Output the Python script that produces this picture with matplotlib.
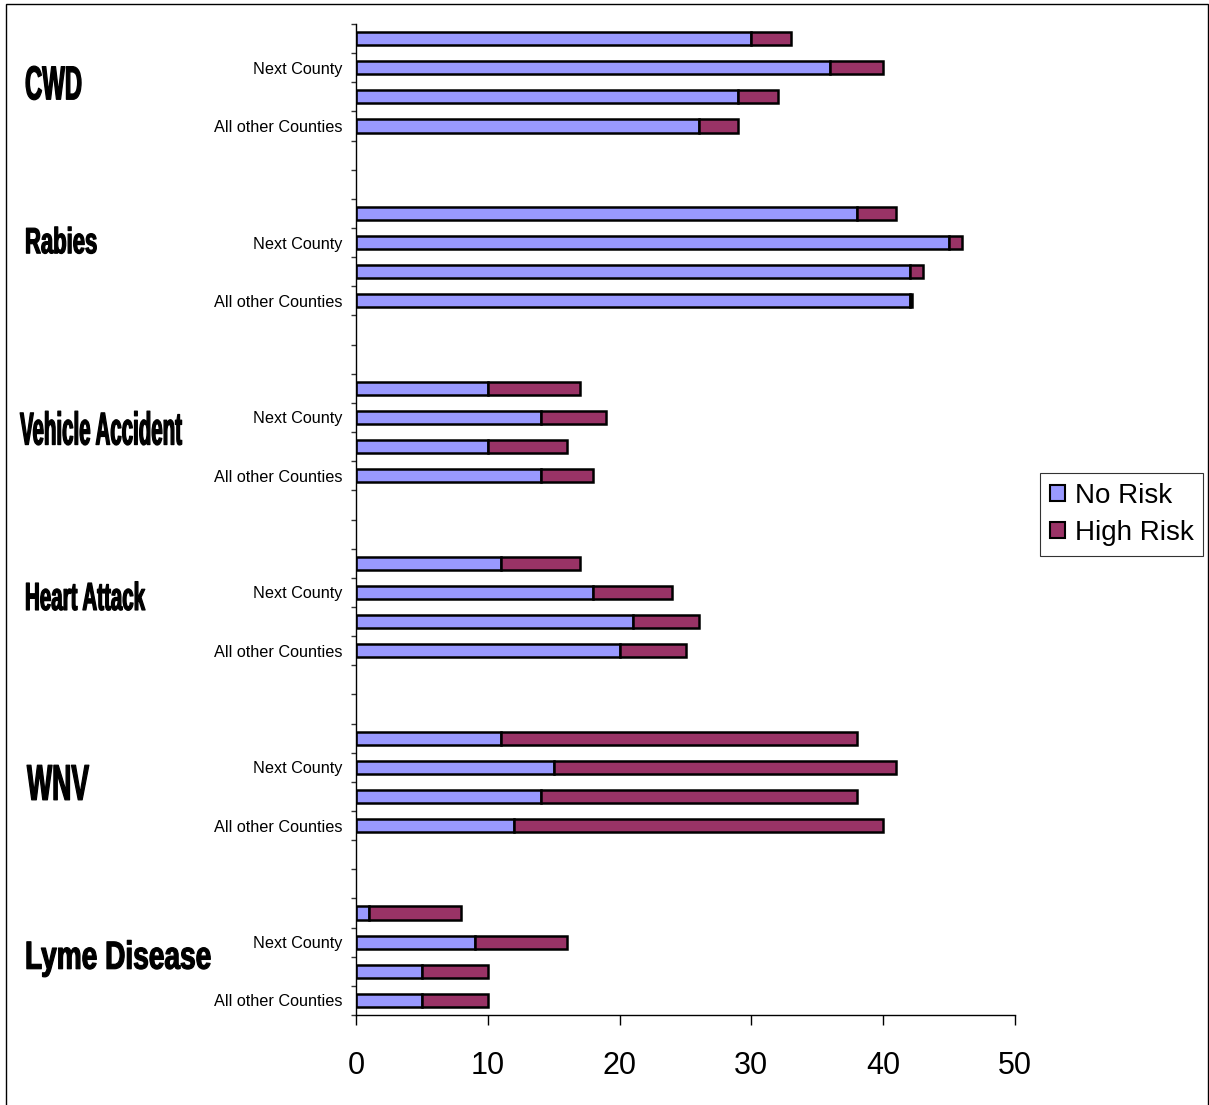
import numpy as np
import matplotlib
matplotlib.use("Agg")
import matplotlib.pyplot as plt
from matplotlib import patheffects
from matplotlib.patches import Patch, Rectangle
from matplotlib.transforms import Affine2D, blended_transform_factory

# Survey results: counts per disease, split by perceived risk
diseases = ["CWD", "Rabies", "Vehicle Accident", "Heart Attack", "WNV", "Lyme Disease"]
row_labels = ["", "Next County", "", "All other Counties"]
no_risk = [
    [30, 36, 29, 26],
    [38, 45, 42, 42],
    [10, 14, 10, 14],
    [11, 18, 21, 20],
    [11, 15, 14, 12],
    [1, 9, 5, 5],
]
high_risk = [
    [3, 4, 3, 3],
    [3, 1, 1, 0.2],
    [7, 5, 6, 4],
    [6, 6, 5, 5],
    [27, 26, 24, 28],
    [7, 7, 5, 5],
]
x_ticks = [0, 10, 20, 30, 40, 50]

# look of the big group titles (pixels): width, cap height, left edge, nudge up
title_w = [57, 72, 162, 120, 62, 186]
title_cap = [34, 26, 33, 28, 36, 28]
title_x = [25, 25, 20, 25, 27, 25]
title_dy = [0, 17, 4, 11, 0, 2]

c_no = "#9999FF"
c_high = "#993366"
sans = ["Liberation Sans", "DejaVu Sans"]
W, H = 1209, 1105


class Stretch(patheffects.AbstractPathEffect):
    """Stretch glyphs vertically about their baseline, with a thin outline."""
    def __init__(self, sy, lw=0.0):
        super().__init__()
        self.sy = sy
        self.lw = lw

    def draw_path(self, renderer, gc, tpath, affine, rgbFace=None):
        gc0 = renderer.new_gc()
        gc0.copy_properties(gc)
        if self.lw > 0:
            gc0.set_linewidth(self.lw)
            gc0.set_foreground(rgbFace)
        renderer.draw_path(gc0, tpath, Affine2D().scale(1, self.sy) + affine, rgbFace)
        gc0.restore()


fig = plt.figure(figsize=(W / 100, H / 100), dpi=100)
ax = fig.add_axes([356 / W, 1 - 1015 / H, (1015 - 356) / W, (1015 - 24) / H])

n_groups = len(diseases)
n_rows = len(row_labels)
slots = n_groups * (n_rows + 2) - 2

ypos, labels = [], []
for g in range(n_groups):
    for r in range(n_rows):
        y = slots - 1 - g * (n_rows + 2) - r
        ax.barh(y, no_risk[g][r], height=0.45, color=c_no, edgecolor="black", linewidth=1.8)
        ax.barh(y, high_risk[g][r], left=no_risk[g][r], height=0.45, color=c_high,
                edgecolor="black", linewidth=1.8)
        if row_labels[r]:
            ypos.append(y)
            labels.append(row_labels[r])

ax.set_xlim(0, 50)
ax.set_ylim(-0.5, slots - 0.5)
for s in ["top", "right"]:
    ax.spines[s].set_visible(False)
ax.spines["left"].set_linewidth(1.0)
ax.spines["bottom"].set_linewidth(1.0)

ax.set_yticks(np.arange(-0.5, slots, 1.0))
ax.set_yticklabels([])
ax.set_yticks(ypos, minor=True)
ax.set_yticklabels(labels, minor=True, fontsize=11.7, family=sans)
ax.tick_params(axis="y", which="major", length=3.5, width=1.0, color="#333333")
ax.tick_params(axis="y", which="minor", length=0, pad=9.5)

ax.set_xticks(x_ticks)
ax.set_xticklabels([str(v) for v in x_ticks], fontsize=22, family=sans)
ax.tick_params(axis="x", length=7, width=1.0, pad=19)

# group titles to the left of the row labels
fig.canvas.draw()
renderer = fig.canvas.get_renderer()
trans = blended_transform_factory(fig.transFigure, ax.transData)
for g, name in enumerate(diseases):
    y_mid = slots - 1 - g * (n_rows + 2) - (n_rows - 1) / 2
    t = ax.text(title_x[g] / W, y_mid, name, transform=trans, family=sans,
                fontweight="bold", fontsize=20, va="baseline", ha="left")
    w = t.get_window_extent(renderer).width
    fs = 20 * title_w[g] / w
    t.set_fontsize(fs)
    sy = title_cap[g] / (0.716 * fs * 100 / 72)
    t.set_path_effects([Stretch(sy, lw=0.9)])
    # baseline sits half a cap height below the group centre
    y_disp = ax.transData.transform((0, y_mid))[1] - title_cap[g] / 2 + title_dy[g]
    t.set_y(ax.transData.inverted().transform((0, y_disp))[1])

handles = [Patch(facecolor=c_no, edgecolor="black", linewidth=1.5, label="No Risk"),
           Patch(facecolor=c_high, edgecolor="black", linewidth=1.5, label="High Risk")]
leg = fig.legend(handles=handles, loc="upper left", bbox_to_anchor=(1040 / W, 1 - 473 / H),
                 prop={"family": sans, "size": 20},
                 frameon=True, fancybox=False, handlelength=0.55, handleheight=0.55,
                 handletextpad=0.35, labelspacing=0.4, borderpad=0.35, borderaxespad=0)
leg.get_frame().set_edgecolor("black")
leg.get_frame().set_linewidth(0.8)

fig.add_artist(Rectangle((6 / W, -0.01), (1208 - 6) / W, (H - 4) / H + 0.01,
                         transform=fig.transFigure, fill=False, edgecolor="black", linewidth=1))

fig.savefig("out.png", dpi=100)
